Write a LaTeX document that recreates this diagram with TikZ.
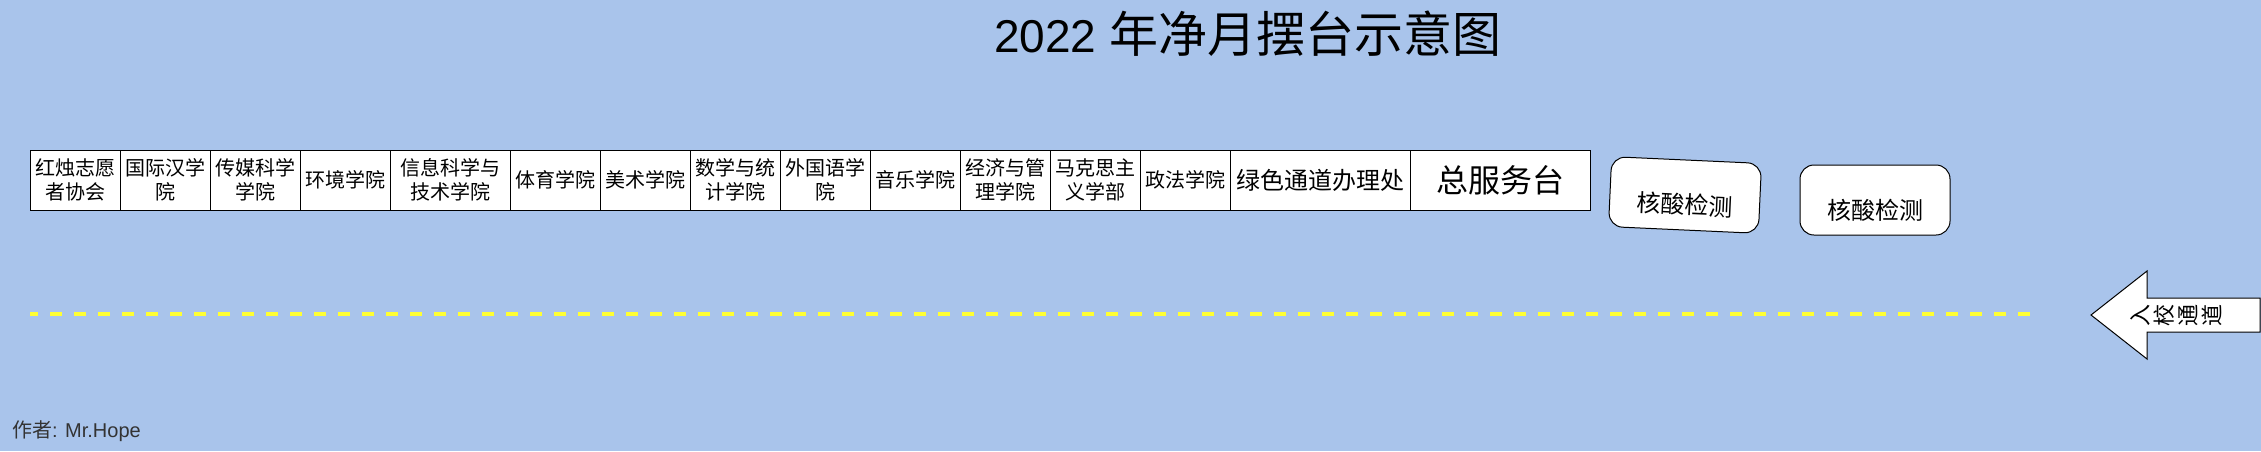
\documentclass[tikz,border=0pt]{standalone}
\usepackage{fontspec}
\setmainfont{Liberation Sans}
\newfontfamily\cjk{Noto Sans CJK SC}
\usetikzlibrary{positioning}
\definecolor{bgblue}{HTML}{A9C4EB}
\definecolor{laneyellow}{HTML}{FFFF33}
\definecolor{authorgray}{HTML}{333333}
\tikzset{
  booth/.style={draw, fill=white, line width=1pt, minimum width=90pt, minimum height=60pt,
    inner sep=0pt, outer sep=0pt, align=center, font=\cjk\fontsize{20}{24}\selectfont},
  testbox/.style={draw, fill=white, line width=1pt, rounded corners=14pt, minimum width=150pt,
    minimum height=70pt, inner sep=0pt, text height=40pt, text depth=2pt,
    font=\cjk\fontsize{24}{28}\selectfont},
}

\begin{document}
\begin{tikzpicture}[x=1pt,y=-1pt]
    \fill[bgblue] (0,0) rectangle (2261,451);                       % background
    \useasboundingbox (0,0) rectangle (2261,451);
    \node[anchor=base west, inner sep=0pt] (title) at (994,52)
        {\fontsize{46}{56}\selectfont 2022 {\cjk\fontsize{49}{56}\selectfont 年净月摆台示意图}};
    % row of booths
    \node[booth, anchor=north west] (hongzhu) at (30,150) {红烛志愿\\者协会};
    \node[booth, right=0pt of hongzhu] (hanxue) {国际汉学\\院};
    \node[booth, right=0pt of hanxue] (chuanmei) {传媒科学\\学院};
    \node[booth, right=0pt of chuanmei] (huanjing) {环境学院};
    \node[booth, minimum width=120pt, right=0pt of huanjing] (xinxi) {信息科学与\\技术学院};
    \node[booth, right=0pt of xinxi] (tiyu) {体育学院};
    \node[booth, right=0pt of tiyu] (meishu) {美术学院};
    \node[booth, right=0pt of meishu] (shuxue) {数学与统\\计学院};
    \node[booth, right=0pt of shuxue] (waiyu) {外国语学\\院};
    \node[booth, right=0pt of waiyu] (yinyue) {音乐学院};
    \node[booth, right=0pt of yinyue] (jingguan) {经济与管\\理学院};
    \node[booth, right=0pt of jingguan] (makesi) {马克思主\\义学部};
    \node[booth, right=0pt of makesi] (zhengfa) {政法学院};
    \node[booth, minimum width=180pt, font=\cjk\fontsize{24}{28}\selectfont,
        right=0pt of zhengfa] (lvse) {绿色通道办理处};
    \node[booth, minimum width=180pt, font=\cjk\fontsize{32}{38}\selectfont,
        right=0pt of lvse] (zongfuwu) {总服务台};
    % nucleic acid test points
    \node[testbox, rotate=-2.6] (hesuanA) at (1685,195) {核酸检测};
    \node[testbox] (hesuanB) at (1875,200) {核酸检测};
    % lane and entrance arrow
    \draw[laneyellow, line width=4pt, dash pattern=on 12pt off 12pt, dash phase=4pt]
        (30,314) -- (2030,314);
    \draw[fill=white, line width=1pt] (2091,315) -- (2147,271) -- (2147,298) -- (2260,298)
        -- (2260,332) -- (2147,332) -- (2147,359) -- cycle;
    \node[rotate=90, align=center, inner sep=0pt, font=\cjk\fontsize{22}{24}\selectfont]
        (entrance) at (2176,315) {入\\校\\通\\道};
    \node[anchor=base west, inner sep=0pt, text=authorgray, font=\fontsize{20}{24}\selectfont]
        (author) at (12,437) {{\cjk 作者}: Mr.Hope};
\end{tikzpicture}
\end{document}
